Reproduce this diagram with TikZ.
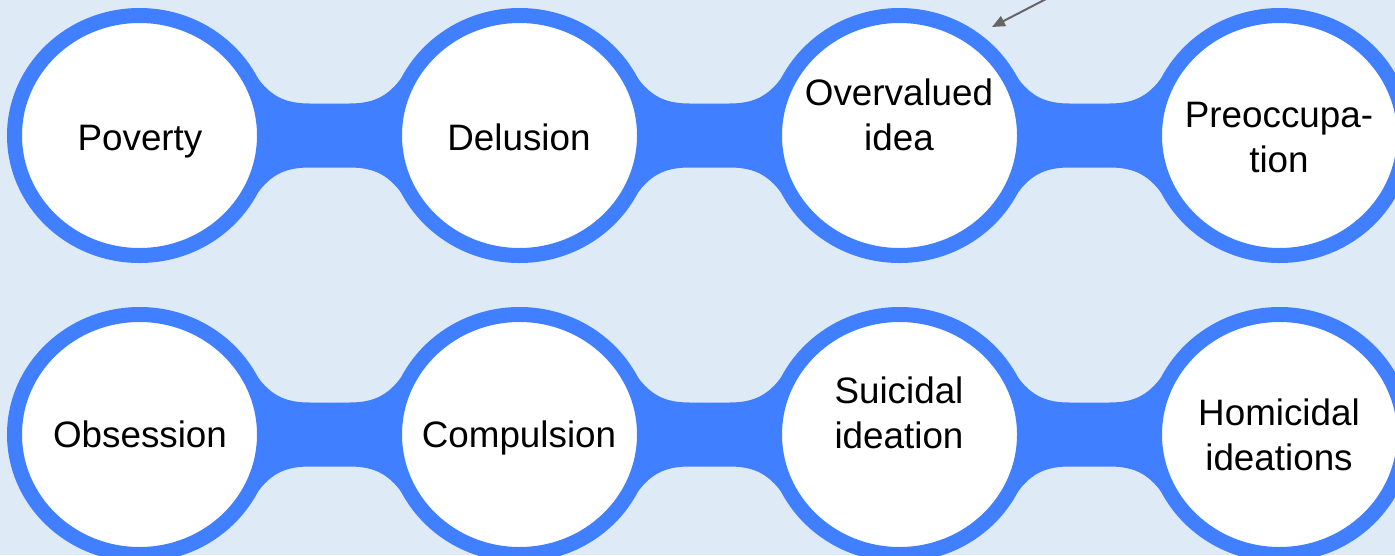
\documentclass[tikz,border=0pt]{standalone}
\usepackage{fontspec}
\setmainfont{Liberation Sans}
\usetikzlibrary{shapes.geometric,calc,arrows.meta}
\definecolor{paper}{HTML}{DFEAF7}
\definecolor{ringblue}{HTML}{407FFF}
\definecolor{pointergray}{HTML}{666666}
\pgfdeclarelayer{back}
\pgfdeclarelayer{links}
\pgfsetlayers{back,links,main}

\tikzset{
  bubble/.style={ellipse, draw=ringblue, fill=white, line width=15pt,
    minimum width=250pt, minimum height=240pt, inner sep=0pt},
  lbl/.style={font=\fontsize{36.8}{44.5}\selectfont, align=center,
    inner sep=0pt, anchor=base, text=black},
  bridgefill/.style={fill=ringblue},
  pointer/.style={draw=pointergray, line width=2pt,
    -{Triangle[length=13pt,width=11pt]}}
}

% waisted band joining two neighbouring bubbles
\newcommand{\joinbubbles}[2]{%
  \fill[bridgefill]
    ($(#1.center)+(113,-65)$)
      .. controls ($(#1.center)+(129,-39.5)$) and ($(#1.center)!0.5!(#2.center)+(-45,-32)$)
      .. ($(#1.center)!0.5!(#2.center)+(-20,-32)$)
    -- ($(#1.center)!0.5!(#2.center)+(20,-32)$)
      .. controls ($(#1.center)!0.5!(#2.center)+(45,-32)$) and ($(#2.center)+(-129,-39.5)$)
      .. ($(#2.center)+(-113,-65)$)
    -- ($(#2.center)+(-113,65)$)
      .. controls ($(#2.center)+(-129,39.5)$) and ($(#1.center)!0.5!(#2.center)+(45,32)$)
      .. ($(#1.center)!0.5!(#2.center)+(20,32)$)
    -- ($(#1.center)!0.5!(#2.center)+(-20,32)$)
      .. controls ($(#1.center)!0.5!(#2.center)+(-45,32)$) and ($(#1.center)+(129,39.5)$)
      .. ($(#1.center)+(113,65)$)
    -- cycle;}

\begin{document}
\begin{tikzpicture}[x=1pt,y=-1pt]
  \useasboundingbox (0,0) rectangle (1395,555);
  \clip (0,0) rectangle (1395,555);
  \begin{pgfonlayer}{back}
    \fill[paper] (0,0) rectangle (1395,555);
  \end{pgfonlayer}

  % top row
  \node[bubble] (poverty)  at (139.5,135.5) {};
  \node[bubble] (delusion) at (519.5,135.5) {};
  \node[bubble] (overval)  at (899.5,135.5) {};
  \node[bubble] (preocc)   at (1279.5,135.5) {};
  % bottom row
  \node[bubble] (obsess)   at (139.5,434.5) {};
  \node[bubble] (compul)   at (519.5,434.5) {};
  \node[bubble] (suicid)   at (899.5,434.5) {};
  \node[bubble] (homicid)  at (1279.5,434.5) {};

  \begin{pgfonlayer}{links}
    \joinbubbles{poverty}{delusion}
    \joinbubbles{delusion}{overval}
    \joinbubbles{overval}{preocc}
    \joinbubbles{obsess}{compul}
    \joinbubbles{compul}{suicid}
    \joinbubbles{suicid}{homicid}
  \end{pgfonlayer}

  % labels (anchored at the baseline of the last line)
  \node[lbl] (povertyT)  at (140,150) {Poverty};
  \node[lbl] (delusionT) at (519,150) {Delusion};
  \node[lbl] (overvalT)  at (899,150) {Overvalued\\idea};
  \node[lbl] (preoccT)   at (1279,172) {Preoccupa-\\tion};
  \node[lbl] (obsessT)   at (140,447) {Obsession};
  \node[lbl] (compulT)   at (519,447) {Compulsion};
  \node[lbl] (suicidT)   at (899,448) {Suicidal\\ideation};
  \node[lbl] (homicidT)  at (1279,470) {Homicidal\\ideations};

  % pointer arriving at the top right of the third bubble
  \coordinate (ptrTail) at (1048,-2);
  \coordinate (ptrTip)  at (992,27);
  \draw[pointer] (ptrTail) -- (ptrTip);
\end{tikzpicture}
\end{document}
